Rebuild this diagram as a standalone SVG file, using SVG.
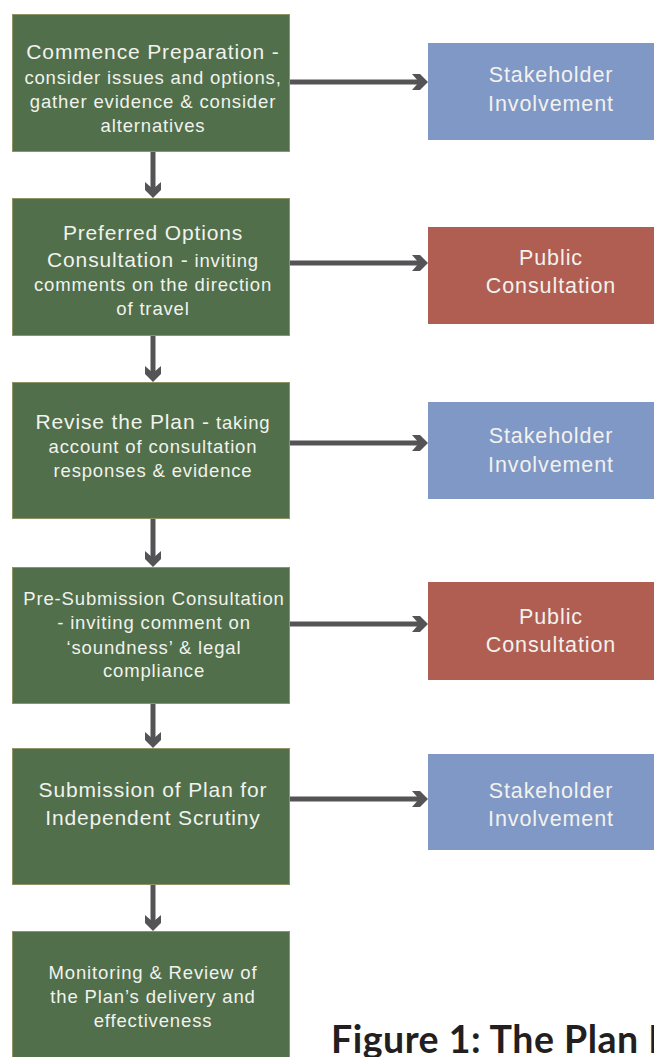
<svg xmlns="http://www.w3.org/2000/svg" width="654" height="1057" viewBox="0 0 654 1057">
<style>
.g{fill:#506f4a;stroke:#8f9366;stroke-width:1}
.b{fill:#8098c6}
.r{fill:#b05e52}
.t{font-family:"Liberation Sans",Arial,sans-serif;fill:#f2f2ee;text-anchor:middle;letter-spacing:0.85px;font-size:18.5px}
.h{font-size:21px}
.rt{font-size:21.5px;letter-spacing:0.9px}
.ln{stroke:#545457;stroke-width:5;fill:none}
.ah{fill:#545457}
.cap{font-family:Lato,"Liberation Sans",sans-serif;font-weight:700;font-size:37.5px;letter-spacing:0.5px;fill:#231f20}
</style>
<rect width="654" height="1057" fill="#ffffff"/>
<g id="connectors">
<line class="ln" x1="153" y1="152" x2="153" y2="190"/>
<polygon class="ah" points="145,182 153,189 161,182 161,190 153,198 145,190"/>
<line class="ln" x1="153" y1="336" x2="153" y2="374"/>
<polygon class="ah" points="145,366 153,373 161,366 161,374 153,382 145,374"/>
<line class="ln" x1="153" y1="519" x2="153" y2="559"/>
<polygon class="ah" points="145,551 153,558 161,551 161,559 153,567 145,559"/>
<line class="ln" x1="153" y1="704" x2="153" y2="740"/>
<polygon class="ah" points="145,732 153,739 161,732 161,740 153,748 145,740"/>
<line class="ln" x1="153" y1="885" x2="153" y2="923"/>
<polygon class="ah" points="145,915 153,922 161,915 161,923 153,931 145,923"/>
<line class="ln" x1="290" y1="82" x2="420" y2="82"/>
<polygon class="ah" points="412,74 419,82 412,90 420,90 428,82 420,74"/>
<line class="ln" x1="290" y1="263" x2="420" y2="263"/>
<polygon class="ah" points="412,255 419,263 412,271 420,271 428,263 420,255"/>
<line class="ln" x1="290" y1="443" x2="420" y2="443"/>
<polygon class="ah" points="412,435 419,443 412,451 420,451 428,443 420,435"/>
<line class="ln" x1="290" y1="624" x2="420" y2="624"/>
<polygon class="ah" points="412,616 419,624 412,632 420,632 428,624 420,616"/>
<line class="ln" x1="290" y1="799" x2="420" y2="799"/>
<polygon class="ah" points="412,791 419,799 412,807 420,807 428,799 420,791"/>
</g>
<g id="n1">
<rect class="g" x="12.5" y="14.5" width="277" height="137"/>
<text class="t" x="153" y="59"><tspan class="h">Commence Preparation -</tspan></text>
<text class="t" x="153" y="84">consider issues and options,</text>
<text class="t" x="153" y="108">gather evidence &amp; consider</text>
<text class="t" x="153" y="132">alternatives</text>
</g>
<g id="n2">
<rect class="g" x="12.5" y="198.5" width="277" height="137"/>
<text class="t" x="153" y="240"><tspan class="h">Preferred Options</tspan></text>
<text class="t" x="153" y="267"><tspan class="h">Consultation -</tspan> inviting</text>
<text class="t" x="153" y="291">comments on the direction</text>
<text class="t" x="153" y="315">of travel</text>
</g>
<g id="n3">
<rect class="g" x="12.5" y="382.5" width="277" height="136"/>
<text class="t" x="153" y="429"><tspan class="h">Revise the Plan -</tspan> taking</text>
<text class="t" x="153" y="453">account of consultation</text>
<text class="t" x="153" y="477">responses &amp; evidence</text>
</g>
<g id="n4">
<rect class="g" x="12.5" y="567.5" width="277" height="136"/>
<text class="t" x="154" y="605">Pre-Submission Consultation</text>
<text class="t" x="154" y="629">- inviting comment on</text>
<text class="t" x="154" y="654">‘soundness’ &amp; legal</text>
<text class="t" x="154" y="677">compliance</text>
</g>
<g id="n5">
<rect class="g" x="12.5" y="748.5" width="277" height="136"/>
<text class="t h" x="153" y="797">Submission of Plan for</text>
<text class="t h" x="153" y="825">Independent Scrutiny</text>
</g>
<g id="n6">
<rect class="g" x="12.5" y="931.5" width="277" height="130"/>
<text class="t" x="153" y="979">Monitoring &amp; Review of</text>
<text class="t" x="153" y="1003">the Plan’s delivery and</text>
<text class="t" x="153" y="1027">effectiveness</text>
</g>
<g id="s1">
<rect class="b" x="428" y="43" width="230" height="97"/>
<text class="t rt" x="551" y="81.5">Stakeholder</text>
<text class="t rt" x="551" y="110.5">Involvement</text>
</g>
<g id="p1">
<rect class="r" x="428" y="227" width="230" height="97"/>
<text class="t rt" x="551" y="265">Public</text>
<text class="t rt" x="551" y="293">Consultation</text>
</g>
<g id="s2">
<rect class="b" x="428" y="402" width="230" height="97"/>
<text class="t rt" x="551" y="443">Stakeholder</text>
<text class="t rt" x="551" y="472">Involvement</text>
</g>
<g id="p2">
<rect class="r" x="428" y="582" width="230" height="98"/>
<text class="t rt" x="551" y="624">Public</text>
<text class="t rt" x="551" y="652">Consultation</text>
</g>
<g id="s3">
<rect class="b" x="428" y="754" width="230" height="96"/>
<text class="t rt" x="551" y="798">Stakeholder</text>
<text class="t rt" x="551" y="826">Involvement</text>
</g>
<text class="cap" x="331" y="1053">Figure 1: The Plan M</text>
</svg>
